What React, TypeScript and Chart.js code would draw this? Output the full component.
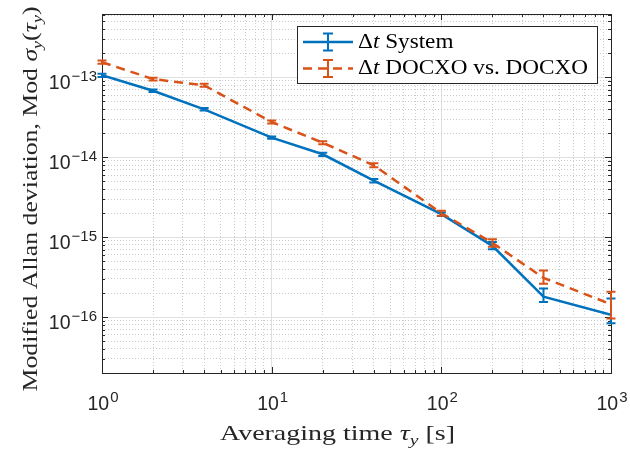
import React, { useEffect, useRef } from "react";
import { Chart, registerables } from "chart.js";
Chart.register(...registerables);

// ---- data ----
const TAU = [1, 2, 4, 10, 20, 40, 100, 200, 400, 1000];
const SYSTEM = [1.06e-13, 6.8e-14, 3.98e-14, 1.76e-14, 1.09e-14, 5.1e-15, 1.94e-15, 7.8e-16, 1.8e-16, 1.07e-16];
const SYSTEM_LOW = [1.01e-13, 6.55e-14, 3.85e-14, 1.7e-14, 1.04e-14, 4.85e-15, 1.84e-15, 7.08e-16, 1.55e-16, 8.4e-17];
const SYSTEM_HIGH = [1.11e-13, 7.05e-14, 4.12e-14, 1.82e-14, 1.14e-14, 5.35e-15, 2.04e-15, 8.7e-16, 2.28e-16, 1.71e-16];
const DOCXO = [1.55e-13, 9.5e-14, 7.94e-14, 2.76e-14, 1.52e-14, 7.94e-15, 2.0e-15, 8.5e-16, 3.1e-16, 1.45e-16];
const DOCXO_LOW = [1.48e-13, 9.1e-14, 7.6e-14, 2.64e-14, 1.45e-14, 7.5e-15, 1.86e-15, 7.6e-16, 2.61e-16, 9.6e-17];
const DOCXO_HIGH = [1.62e-13, 9.9e-14, 8.3e-14, 2.88e-14, 1.59e-14, 8.4e-15, 2.15e-15, 9.4e-16, 3.82e-16, 2.07e-16];

// tick labels: base 10 with exponent
const X_TICK_VALUES = [1, 10, 100, 1000];
const X_TICK_EXPONENTS = ["0", "1", "2", "3"];
const Y_TICK_VALUES = [1e-16, 1e-15, 1e-14, 1e-13];
const Y_TICK_EXPONENTS = ["-16", "-15", "-14", "-13"];
const TICK_BASE = "10";

const X_MIN = 1;
const X_MAX = 1000;
const Y_MIN = 2e-17;
const Y_MAX = 6.2e-13;

const BLUE = "#0072BD";
const ORANGE = "#D95319";
const AXIS = "#262626";

type Run = { t: string; it?: boolean; sub?: boolean };
const X_TITLE: Run[] = [{ t: "Averaging time " }, { t: "τ", it: true }, { t: "y", it: true, sub: true }, { t: " [s]" }];
const Y_TITLE: Run[] = [
  { t: "Modified Allan deviation, Mod " },
  { t: "σ", it: true },
  { t: "y", it: true, sub: true },
  { t: "(" },
  { t: "τ", it: true },
  { t: "y", it: true, sub: true },
  { t: ")" },
];
const LEGEND_1: Run[] = [{ t: "Δ" }, { t: "t", it: true }, { t: " System" }];
const LEGEND_2: Run[] = [{ t: "Δ" }, { t: "t", it: true }, { t: " DOCXO vs. DOCXO" }];

const ERRORS = [
  { low: SYSTEM_LOW, high: SYSTEM_HIGH, color: BLUE },
  { low: DOCXO_LOW, high: DOCXO_HIGH, color: ORANGE },
];

// ---- helpers ----
function isMajor(v: number) {
  const l = Math.log10(v);
  return Math.abs(l - Math.round(l)) < 1e-6;
}
function logGrid(min: number, max: number) {
  const out: number[] = [];
  for (let e = Math.floor(Math.log10(min)); e <= Math.ceil(Math.log10(max)); e++) {
    for (let m = 1; m <= 9; m++) {
      const v = m * Math.pow(10, e);
      if (v >= min * (1 - 1e-9) && v <= max * (1 + 1e-9)) out.push(v);
    }
  }
  return out;
}
const SERIF = '"Liberation Serif", "DejaVu Serif", serif';
const SANS = '"Liberation Sans", Arial, sans-serif';
function runFont(r: Run, size: number) {
  const s = r.sub ? size * 0.7 : size;
  return `${r.it ? "italic " : ""}${s}px ${SERIF}`;
}
function richWidth(ctx: CanvasRenderingContext2D, runs: Run[], size: number) {
  let w = 0;
  for (const r of runs) {
    ctx.font = runFont(r, size);
    w += ctx.measureText(r.t).width;
  }
  return w;
}
function drawRunsAt(ctx: CanvasRenderingContext2D, runs: Run[], size: number, x0: number) {
  let x = x0;
  for (const r of runs) {
    ctx.font = runFont(r, size);
    ctx.fillText(r.t, x, r.sub ? size * 0.22 : 0);
    x += ctx.measureText(r.t).width;
  }
}
const BASE_SIZE = 19.5;
const EXP_SIZE = 15;
const EXP_RAISE = 8;
const expText = (e: string) => e.replace("-", "\u2212");
function powerWidth(ctx: CanvasRenderingContext2D, exp: string) {
  ctx.font = `${BASE_SIZE}px ${SANS}`;
  const wb = ctx.measureText(TICK_BASE).width;
  ctx.font = `${EXP_SIZE}px ${SANS}`;
  const we = ctx.measureText(expText(exp)).width;
  return { wb, we, w: wb + 1 + we };
}
function drawPower(ctx: CanvasRenderingContext2D, exp: string, x: number, baseline: number) {
  const { wb } = powerWidth(ctx, exp);
  ctx.font = `${BASE_SIZE}px ${SANS}`;
  ctx.fillText(TICK_BASE, x, baseline);
  ctx.font = `${EXP_SIZE}px ${SANS}`;
  ctx.fillText(expText(exp), x + wb + 1, baseline - EXP_RAISE);
}

const decorPlugin = {
  id: "decor",
  beforeDatasetsDraw(chart: any) {
    const ctx: CanvasRenderingContext2D = chart.ctx;
    const { left, right, top, bottom } = chart.chartArea;
    const xs = chart.scales.x;
    const ys = chart.scales.y;
    ctx.save();
    ctx.strokeStyle = AXIS;
    ctx.lineWidth = 1;
    ctx.setLineDash([]);
    ctx.beginPath();
    for (const t of xs.ticks) {
      const px = Math.round(xs.getPixelForValue(t.value)) + 0.5;
      const L = isMajor(t.value) ? 6 : 3;
      ctx.moveTo(px, bottom);
      ctx.lineTo(px, bottom - L);
      ctx.moveTo(px, top);
      ctx.lineTo(px, top + L);
    }
    for (const t of ys.ticks) {
      const py = Math.round(ys.getPixelForValue(t.value)) + 0.5;
      const L = isMajor(t.value) ? 6 : 3;
      ctx.moveTo(left, py);
      ctx.lineTo(left + L, py);
      ctx.moveTo(right, py);
      ctx.lineTo(right - L, py);
    }
    ctx.stroke();
    ctx.strokeRect(Math.round(left) + 0.5, Math.round(top) + 0.5, Math.round(right - left), Math.round(bottom - top));

    // tick labels
    ctx.fillStyle = AXIS;
    ctx.textBaseline = "alphabetic";
    ctx.textAlign = "left";
    X_TICK_VALUES.forEach((v, i) => {
      const px = xs.getPixelForValue(v);
      const { w } = powerWidth(ctx, X_TICK_EXPONENTS[i]);
      drawPower(ctx, X_TICK_EXPONENTS[i], px - w / 2 + 1, bottom + 37);
    });
    Y_TICK_VALUES.forEach((v, i) => {
      const py = ys.getPixelForValue(v);
      const { w } = powerWidth(ctx, Y_TICK_EXPONENTS[i]);
      drawPower(ctx, Y_TICK_EXPONENTS[i], left - 5 - w, py + 12);
    });
    ctx.restore();
  },
  afterDatasetsDraw(chart: any) {
    const ctx: CanvasRenderingContext2D = chart.ctx;
    const xs = chart.scales.x;
    const ys = chart.scales.y;
    ctx.save();
    ctx.setLineDash([]);
    ctx.lineWidth = 2;
    for (const e of ERRORS) {
      ctx.strokeStyle = e.color;
      ctx.beginPath();
      TAU.forEach((t, i) => {
        const px = xs.getPixelForValue(t);
        const yl = ys.getPixelForValue(e.low[i]);
        const yh = ys.getPixelForValue(e.high[i]);
        ctx.moveTo(px, yl);
        ctx.lineTo(px, yh);
        ctx.moveTo(px - 4.5, yl);
        ctx.lineTo(px + 4.5, yl);
        ctx.moveTo(px - 4.5, yh);
        ctx.lineTo(px + 4.5, yh);
      });
      ctx.stroke();
    }
    ctx.restore();
  },
  afterDraw(chart: any) {
    const ctx: CanvasRenderingContext2D = chart.ctx;
    ctx.save();
    ctx.textBaseline = "alphabetic";
    ctx.textAlign = "left";
    ctx.fillStyle = AXIS;

    // x title
    {
      const size = 22;
      const w = richWidth(ctx, X_TITLE, size);
      const sx = 235 / w;
      ctx.save();
      ctx.translate(337.5, 440);
      ctx.scale(sx, 1);
      drawRunsAt(ctx, X_TITLE, size, -w / 2);
      ctx.restore();
    }
    // y title
    {
      const size = 22;
      const w = richWidth(ctx, Y_TITLE, size);
      const sx = 385 / w;
      ctx.save();
      ctx.translate(37, 199);
      ctx.rotate(-Math.PI / 2);
      ctx.scale(sx, 1);
      drawRunsAt(ctx, Y_TITLE, size, -w / 2);
      ctx.restore();
    }
    // legend
    {
      const bx = 297, by = 26, bw = 300, bh = 57;
      ctx.fillStyle = "#ffffff";
      ctx.fillRect(bx, by, bw, bh);
      ctx.strokeStyle = AXIS;
      ctx.lineWidth = 1;
      ctx.strokeRect(bx + 0.5, by + 0.5, bw, bh);
      const rows = [
        { runs: LEGEND_1, color: BLUE, dash: [] as number[], ly: 42, base: 47.5 },
        { runs: LEGEND_2, color: ORANGE, dash: [9, 6], ly: 68.5, base: 73.5 },
      ];
      const size = 20;
      const w2 = richWidth(ctx, LEGEND_2, size);
      const sx = 230 / w2;
      for (const r of rows) {
        ctx.strokeStyle = r.color;
        ctx.lineWidth = 2.5;
        ctx.setLineDash(r.dash);
        ctx.beginPath();
        ctx.moveTo(303, r.ly);
        ctx.lineTo(353, r.ly);
        ctx.stroke();
        ctx.setLineDash([]);
        ctx.lineWidth = 2;
        ctx.beginPath();
        ctx.moveTo(328, r.ly - 8.5);
        ctx.lineTo(328, r.ly + 8.5);
        ctx.moveTo(323, r.ly - 8.5);
        ctx.lineTo(333, r.ly - 8.5);
        ctx.moveTo(323, r.ly + 8.5);
        ctx.lineTo(333, r.ly + 8.5);
        ctx.stroke();
        ctx.fillStyle = "#000000";
        ctx.save();
        ctx.translate(358, r.base);
        ctx.scale(sx, 1);
        drawRunsAt(ctx, r.runs, size, 0);
        ctx.restore();
      }
    }
    ctx.restore();
  },
};

const gridColor = (ctx: any) => (ctx.tick && isMajor(ctx.tick.value) ? "#dfdfdf" : "#cbcbcb");
const gridDash = (ctx: any) => (ctx.tick && !isMajor(ctx.tick.value) ? [1, 2] : []);

export default function App() {
  const ref = useRef<HTMLCanvasElement | null>(null);
  useEffect(() => {
    document.body.style.margin = "0";
    const canvas = ref.current!;
    const chart = new Chart(canvas, {
      type: "line",
      data: {
        datasets: [
          {
            label: "Δt System",
            data: TAU.map((t, i) => ({ x: t, y: SYSTEM[i] })),
            borderColor: BLUE,
            backgroundColor: BLUE,
            borderWidth: 2.5,
            pointRadius: 0,
            tension: 0,
            fill: false,
            order: 1,
          },
          {
            label: "Δt DOCXO vs. DOCXO",
            data: TAU.map((t, i) => ({ x: t, y: DOCXO[i] })),
            borderColor: ORANGE,
            backgroundColor: ORANGE,
            borderWidth: 2.5,
            borderDash: [9, 6],
            pointRadius: 0,
            tension: 0,
            fill: false,
            order: 0,
          },
        ],
      },
      options: {
        animation: false,
        responsive: false,
        devicePixelRatio: 1,
        layout: { padding: { top: 14, right: 19, left: 0, bottom: 0 } },
        plugins: { legend: { display: false }, tooltip: { enabled: false } },
        scales: {
          x: {
            type: "logarithmic",
            min: X_MIN,
            max: X_MAX,
            afterBuildTicks: (s: any) => {
              s.ticks = logGrid(X_MIN, X_MAX).map((v) => ({ value: v, major: isMajor(v) }));
            },
            afterFit: (s: any) => {
              s.height = 77;
              s.paddingLeft = 0;
              s.paddingRight = 0;
            },
            ticks: { display: false, autoSkip: false },
            grid: { drawTicks: false, color: gridColor, lineWidth: 1 },
            border: { display: false, dash: gridDash },
          },
          y: {
            type: "logarithmic",
            min: Y_MIN,
            max: Y_MAX,
            afterBuildTicks: (s: any) => {
              s.ticks = logGrid(Y_MIN, Y_MAX).map((v) => ({ value: v, major: isMajor(v) }));
            },
            afterFit: (s: any) => {
              s.width = 102;
              s.paddingTop = 0;
              s.paddingBottom = 0;
            },
            ticks: { display: false, autoSkip: false },
            grid: { drawTicks: false, color: gridColor, lineWidth: 1 },
            border: { display: false, dash: gridDash },
          },
        },
      },
      plugins: [decorPlugin],
    } as any);
    return () => chart.destroy();
  }, []);
  return <canvas ref={ref} width={630} height={450} style={{ display: "block" }} />;
}
